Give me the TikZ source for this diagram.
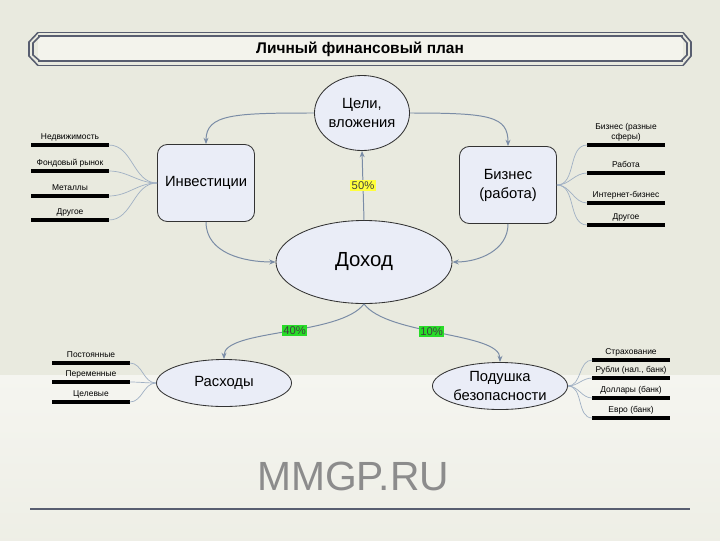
\documentclass[tikz,border=0pt]{standalone}
\usepackage{fontspec}
\setmainfont{Liberation Sans}
\usetikzlibrary{shapes.geometric,arrows.meta,positioning}
\definecolor{bgtop}{RGB}{233,234,223}
\definecolor{bglow}{RGB}{245,245,240}
\definecolor{titlefill}{RGB}{243,243,236}
\definecolor{nodefill}{RGB}{234,237,247}
\definecolor{arrowc}{RGB}{122,140,166}
\definecolor{twigc}{RGB}{160,176,196}
\definecolor{barc}{RGB}{88,94,112}
\definecolor{pctyellow}{RGB}{255,255,60}
\definecolor{pctgreen}{RGB}{40,220,40}
\tikzset{
  oval/.style={ellipse,draw=black!80,fill=nodefill,line width=0.6pt,inner sep=0pt,
    align=center,font=\fontsize{10.5}{13.5}\selectfont},
  box/.style={rectangle,rounded corners=7pt,draw=black!80,fill=nodefill,line width=0.6pt,
    minimum width=2.425cm,minimum height=1.925cm,align=center,font=\fontsize{10.5}{13.5}\selectfont},
  arr/.style={draw=arrowc,line width=0.7pt,-{Stealth[length=4.5pt,width=3.5pt]}},
  twig/.style={draw=twigc,line width=0.5pt},
  leaf/.style={minimum width=1.925cm,inner xsep=0pt,inner ysep=2.5pt,text depth=1.5pt,
    align=center,font=\fontsize{6}{7}\selectfont,anchor=south},
  leafline/.style={line width=2.4pt},
  pct/.style={inner sep=1pt,font=\fontsize{8}{9}\selectfont,text=black!75},
  bar/.style={draw=barc,line width=1.1pt}
}
\begin{document}
\begin{tikzpicture}[x=0.025cm,y=-0.025cm]
    \useasboundingbox (0,0) rectangle (720,540);
    % background
    \fill[bgtop] (0,0) rectangle (720,375);
    \shade[top color=bglow,bottom color=bgtop!60!bglow] (0,375) rectangle (720,540);
    % title bar
    \fill[titlefill] (38,36) rectangle (683,61);
    \foreach \y in {32.5,36,61,65.5} \draw[bar] (38,\y) -- (683,\y);
    \draw[bar] (38,32.5) -- (29,42) -- (29,56) -- (38,65.5);
    \draw[bar] (40,36) -- (33,43) -- (33,55) -- (40,61);
    \draw[bar] (683,32.5) -- (691,42) -- (691,56) -- (683,65.5);
    \draw[bar] (681,36) -- (687,43) -- (687,55) -- (681,61);
    \node[font=\bfseries\fontsize{11}{13}\selectfont] (title) at (360,49) {Личный финансовый план};
    % main nodes
    \node[oval,minimum width=2.375cm,minimum height=1.875cm] (goal) at (362,113) {Цели,\\вложения};
    \node[box] (inv) at (206,183) {Инвестиции};
    \node[box] (biz) at (508,185) {Бизнес\\(работа)};
    \node[oval,minimum width=4.4cm,minimum height=2.075cm,font=\fontsize{14.5}{16}\selectfont] (inc) at (364,262) {Доход};
    \node[oval,minimum width=3.375cm,minimum height=1.175cm] (exp) at (224,383) {Расходы};
    \node[oval,minimum width=3.375cm,minimum height=1.175cm] (cush) at (500,386) {Подушка\\безопасности};
    % arrows
    \draw[arr] (goal.west) .. controls +(-80,0) and +(0,-30) .. (inv.north);
    \draw[arr] (goal.east) .. controls +(80,0) and +(0,-30) .. (biz.north);
    \draw[arr] (inv.south) to[out=-90,in=180] (inc.west);
    \draw[arr] (biz.south) to[out=-90,in=0] (inc.east);
    \draw[arr] (inc.north) -- node[pct,fill=pctyellow] {50\%} (goal.south);
    \draw[arr] (inc.south) .. controls +(-24,32) and +(0,-30) .. node[pct,fill=pctgreen,pos=0.45] {40\%} (exp.north);
    \draw[arr] (inc.south) .. controls +(24,32) and +(0,-30) .. node[pct,fill=pctgreen,pos=0.45] {10\%} (cush.north);
    % leaves
    \foreach \txt/\y [count=\i] in {Недвижимость/145,Фондовый рынок/171,Металлы/196,Другое/220}{
        \node[leaf] (inv\i) at (70,\y) {\txt};
        \draw[leafline] (inv\i.south west) -- (inv\i.south east);
        \draw[twig] (inv\i.south east) to[out=0,in=180] (inv.west);
    }
    \foreach \txt/\y [count=\i] in {Бизнес (разные\\сферы)/145,Работа/173,Интернет-бизнес/203,Другое/225}{
        \node[leaf] (biz\i) at (626,\y) {\txt};
        \draw[leafline] (biz\i.south west) -- (biz\i.south east);
        \draw[twig] (biz\i.south west) to[out=180,in=0] (biz.east);
    }
    \foreach \txt/\y [count=\i] in {Постоянные/363,Переменные/382,Целевые/402}{
        \node[leaf] (exp\i) at (91,\y) {\txt};
        \draw[leafline] (exp\i.south west) -- (exp\i.south east);
        \draw[twig] (exp\i.south east) to[out=0,in=180] (exp.west);
    }
    \foreach \txt/\y [count=\i] in {Страхование/360,{Рубли (нал., банк)}/378,Доллары (банк)/398,Евро (банк)/418}{
        \node[leaf] (cush\i) at (631,\y) {\txt};
        \draw[leafline] (cush\i.south west) -- (cush\i.south east);
        \draw[twig] (cush\i.south west) to[out=180,in=0] (cush.east);
    }
    % footer
    \node[font=\fontsize{29}{32}\selectfont,text=black!45] (site) at (353,476) {MMGP.RU};
    \draw[barc,line width=2pt] (30,509) -- (690,509);
\end{tikzpicture}
\end{document}
